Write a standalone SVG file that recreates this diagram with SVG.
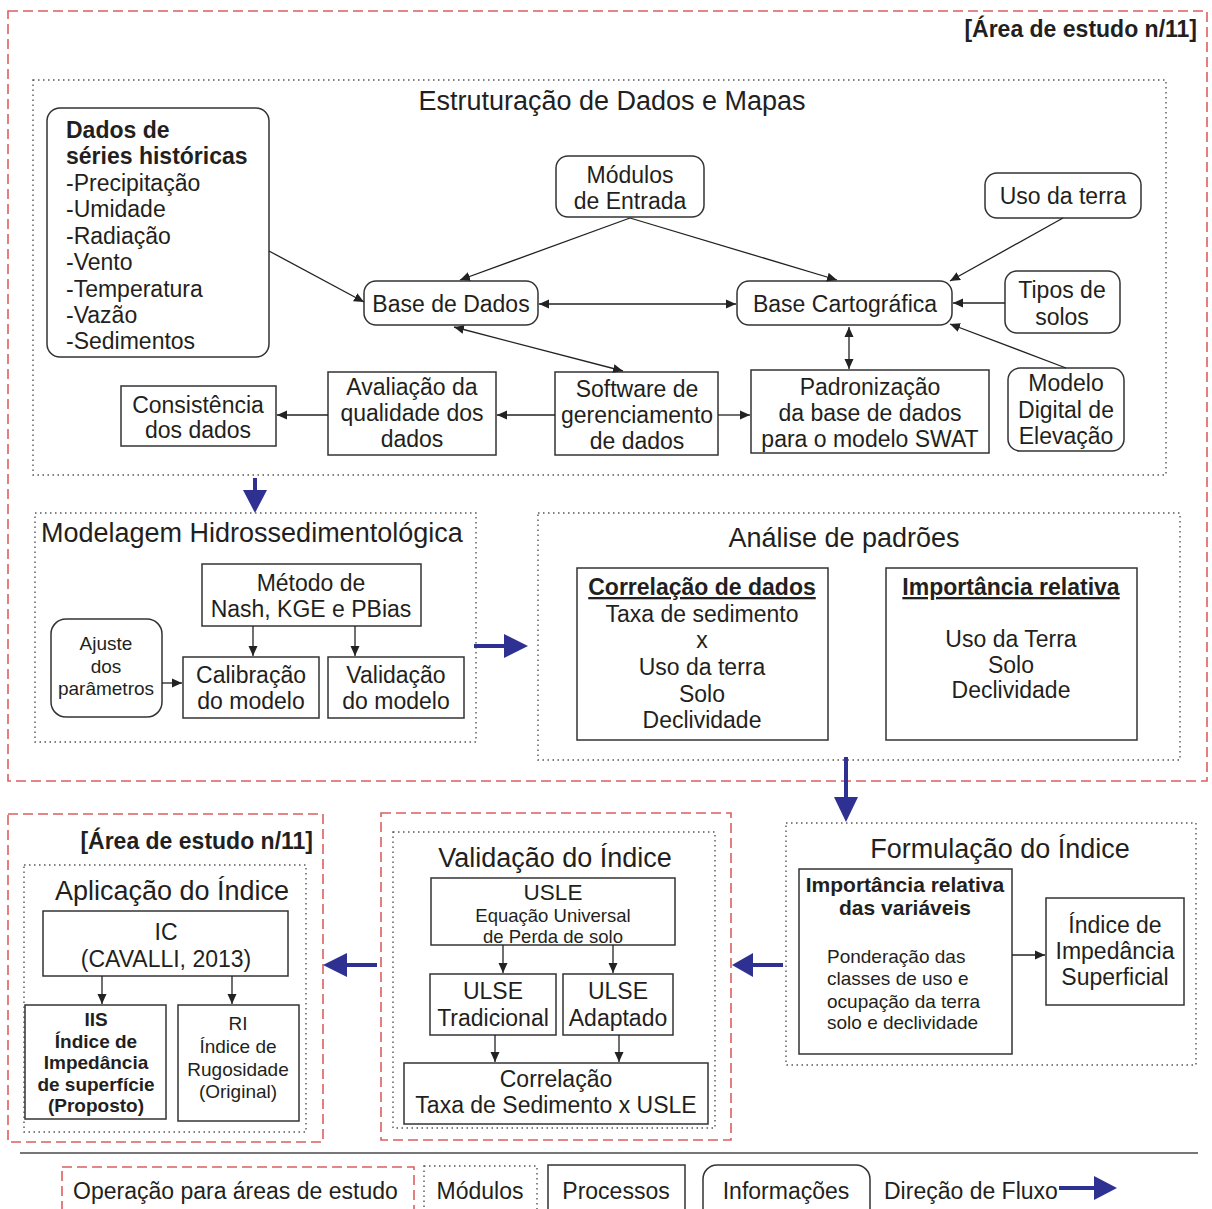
<svg xmlns="http://www.w3.org/2000/svg" width="1212" height="1209" viewBox="0 0 1212 1209">
<style>
text{font-family:"Liberation Sans",Arial,sans-serif;fill:#231f20;font-size:23px}
.m{text-anchor:middle}
.e{text-anchor:end}
.b{font-weight:bold}
.ti{font-size:27px}
.s{font-size:19px}
.red{fill:none;stroke:#dc5f5f;stroke-width:1.6;stroke-dasharray:10 5}
.dot{fill:none;stroke:#555;stroke-width:1.4;stroke-dasharray:1.5 3.5}
.box{fill:#fff;stroke:#333;stroke-width:1.5}
.ln{fill:none;stroke:#222;stroke-width:1.3;marker-end:url(#ah)}
.bi{marker-start:url(#ah)}
.bl{fill:none;stroke:#2e3192;stroke-width:4}
.bh{fill:#2e3192}
</style>
<defs>
<marker id="ah" markerUnits="userSpaceOnUse" markerWidth="11" markerHeight="10" refX="10" refY="5" orient="auto-start-reverse" viewBox="0 0 11 10">
<path d="M0,0.5 L10,5 L0,9.5 z" fill="#222"/>
</marker>
</defs>
<rect width="1212" height="1209" fill="#fff"/>

<g id="frames">
<rect class="red" x="8" y="11" width="1199" height="770"/>
<text class="b e" x="1197" y="37">[Área de estudo n/11]</text>
<rect class="red" x="8" y="814" width="315" height="328"/>
<text class="b e" x="313" y="849">[Área de estudo n/11]</text>
<rect class="red" x="381" y="813" width="350" height="327"/>
</g>

<g id="mod-estruturacao">
<rect class="dot" x="33" y="80" width="1133" height="395"/>
<text class="ti m" x="612" y="110">Estruturação de Dados e Mapas</text>
</g>
<g id="mod-modelagem">
<rect class="dot" x="35" y="513" width="441" height="229"/>
<text class="ti" x="41" y="542">Modelagem Hidrossedimentológica</text>
</g>
<g id="mod-analise">
<rect class="dot" x="538" y="513" width="642" height="247"/>
<text class="ti m" x="844" y="547">Análise de padrões</text>
</g>
<g id="mod-aplicacao">
<rect class="dot" x="24" y="865" width="282" height="267"/>
<text class="ti m" x="172" y="900">Aplicação do Índice</text>
</g>
<g id="mod-validacao">
<rect class="dot" x="393" y="832" width="322" height="296"/>
<text class="ti m" x="555" y="867">Validação do Índice</text>
</g>
<g id="mod-formulacao">
<rect class="dot" x="786" y="823" width="410" height="242"/>
<text class="ti m" x="1000" y="858">Formulação do Índice</text>
</g>

<g id="n-dados">
<rect class="box" x="47" y="108" width="222" height="249" rx="13"/>
<text class="b" x="66" y="138">Dados de</text>
<text class="b" x="66" y="164">séries históricas</text>
<text x="66" y="191">-Precipitação</text>
<text x="66" y="217">-Umidade</text>
<text x="66" y="244">-Radiação</text>
<text x="66" y="270">-Vento</text>
<text x="66" y="297">-Temperatura</text>
<text x="66" y="323">-Vazão</text>
<text x="66" y="349">-Sedimentos</text>
</g>
<g id="n-modulos">
<rect class="box" x="556" y="156" width="148" height="61" rx="12"/>
<text class="m" x="630" y="183">Módulos</text>
<text class="m" x="630" y="209">de Entrada</text>
</g>
<g id="n-uso">
<rect class="box" x="985" y="173" width="156" height="45" rx="12"/>
<text class="m" x="1063" y="204">Uso da terra</text>
</g>
<g id="n-basedados">
<rect class="box" x="364" y="281" width="174" height="44" rx="12"/>
<text class="m" x="451" y="312">Base de Dados</text>
</g>
<g id="n-basecarto">
<rect class="box" x="737" y="281" width="215" height="44" rx="12"/>
<text class="m" x="845" y="312">Base Cartográfica</text>
</g>
<g id="n-tipos">
<rect class="box" x="1005" y="271" width="115" height="62" rx="12"/>
<text class="m" x="1062" y="298">Tipos de</text>
<text class="m" x="1062" y="325">solos</text>
</g>
<g id="n-mde">
<rect class="box" x="1008" y="368" width="116" height="83" rx="12"/>
<text class="m" x="1066" y="391">Modelo</text>
<text class="m" x="1066" y="418">Digital de</text>
<text class="m" x="1066" y="444">Elevação</text>
</g>
<g id="n-padronizacao">
<rect class="box" x="751" y="370" width="238" height="83"/>
<text class="m" x="870" y="395">Padronização</text>
<text class="m" x="870" y="421">da base de dados</text>
<text class="m" x="870" y="447">para o modelo SWAT</text>
</g>
<g id="n-software">
<rect class="box" x="555" y="372" width="163" height="83"/>
<text class="m" x="637" y="397">Software de</text>
<text class="m" x="637" y="423">gerenciamento</text>
<text class="m" x="637" y="449">de dados</text>
</g>
<g id="n-avaliacao">
<rect class="box" x="328" y="372" width="168" height="83"/>
<text class="m" x="412" y="395">Avaliação da</text>
<text class="m" x="412" y="421">qualidade dos</text>
<text class="m" x="412" y="447">dados</text>
</g>
<g id="n-consistencia">
<rect class="box" x="121" y="386" width="155" height="60"/>
<text class="m" x="198" y="413">Consistência</text>
<text class="m" x="198" y="438">dos dados</text>
</g>

<g id="n-metodo">
<rect class="box" x="202" y="564" width="219" height="62"/>
<text class="m" x="311" y="591">Método de</text>
<text class="m" x="311" y="617">Nash, KGE e PBias</text>
</g>
<g id="n-ajuste">
<rect class="box" x="51" y="619" width="111" height="98" rx="15"/>
<text class="m s" x="106" y="650">Ajuste</text>
<text class="m s" x="106" y="673">dos</text>
<text class="m s" x="106" y="695">parâmetros</text>
</g>
<g id="n-calibracao">
<rect class="box" x="183" y="657" width="136" height="61"/>
<text class="m" x="251" y="683">Calibração</text>
<text class="m" x="251" y="709">do modelo</text>
</g>
<g id="n-validacao-modelo">
<rect class="box" x="328" y="657" width="136" height="61"/>
<text class="m" x="396" y="683">Validação</text>
<text class="m" x="396" y="709">do modelo</text>
</g>

<g id="n-correlacao">
<rect class="box" x="577" y="568" width="251" height="172"/>
<text class="m b" x="702" y="595" text-decoration="underline">Correlação de dados</text>
<text class="m" x="702" y="622">Taxa de sedimento</text>
<text class="m" x="702" y="648">x</text>
<text class="m" x="702" y="675">Uso da terra</text>
<text class="m" x="702" y="702">Solo</text>
<text class="m" x="702" y="728">Declividade</text>
</g>
<g id="n-importancia">
<rect class="box" x="886" y="568" width="251" height="172"/>
<text class="m b" x="1011" y="595" text-decoration="underline">Importância relativa</text>
<text class="m" x="1011" y="647">Uso da Terra</text>
<text class="m" x="1011" y="673">Solo</text>
<text class="m" x="1011" y="698">Declividade</text>
</g>

<g id="n-ic">
<rect class="box" x="43" y="911" width="245" height="65"/>
<text class="m" x="166" y="940">IC</text>
<text class="m" x="166" y="967">(CAVALLI, 2013)</text>
</g>
<g id="n-iis">
<rect class="box" x="25" y="1005" width="141" height="114"/>
<text class="m s b" x="96" y="1026">IIS</text>
<text class="m s b" x="96" y="1048">Índice de</text>
<text class="m s b" x="96" y="1069">Impedância</text>
<text class="m s b" x="96" y="1091">de superfície</text>
<text class="m s b" x="96" y="1112">(Proposto)</text>
</g>
<g id="n-ri">
<rect class="box" x="178" y="1005" width="121" height="116"/>
<text class="m s" x="238" y="1030">RI</text>
<text class="m s" x="238" y="1053">Índice de</text>
<text class="m s" x="238" y="1076">Rugosidade</text>
<text class="m s" x="238" y="1098">(Original)</text>
</g>

<g id="n-usle">
<rect class="box" x="431" y="878" width="244" height="67"/>
<text class="m" x="553" y="900" style="font-size:22.5px">USLE</text>
<text class="m" x="553" y="922" style="font-size:18.5px">Equação Universal</text>
<text class="m" x="553" y="943" style="font-size:18.5px">de Perda de solo</text>
</g>
<g id="n-ulse-trad">
<rect class="box" x="430" y="974" width="126" height="61"/>
<text class="m" x="493" y="999">ULSE</text>
<text class="m" x="493" y="1026">Tradicional</text>
</g>
<g id="n-ulse-adapt">
<rect class="box" x="563" y="974" width="110" height="61"/>
<text class="m" x="618" y="999">ULSE</text>
<text class="m" x="618" y="1026">Adaptado</text>
</g>
<g id="n-corr-usle">
<rect class="box" x="404" y="1063" width="304" height="61"/>
<text class="m" x="556" y="1087">Correlação</text>
<text class="m" x="556" y="1113">Taxa de Sedimento x USLE</text>
</g>

<g id="n-imp-var">
<rect class="box" x="799" y="869" width="213" height="185"/>
<text class="m b" x="905" y="892" style="font-size:21px">Importância relativa</text>
<text class="m b" x="905" y="915" style="font-size:21px">das variáveis</text>
<text class="s" x="827" y="963">Ponderação das</text>
<text class="s" x="827" y="985">classes de uso e</text>
<text class="s" x="827" y="1008">ocupação da terra</text>
<text class="s" x="827" y="1029">solo e declividade</text>
</g>
<g id="n-iis-result">
<rect class="box" x="1046" y="898" width="138" height="107"/>
<text class="m" x="1115" y="933">Índice de</text>
<text class="m" x="1115" y="959">Impedância</text>
<text class="m" x="1115" y="985">Superficial</text>
</g>

<g id="connectors">
<line class="ln" x1="269" y1="251" x2="364" y2="302"/>
<line class="ln" x1="630" y1="218" x2="460" y2="280"/>
<line class="ln" x1="630" y1="218" x2="837" y2="280"/>
<line class="ln bi" x1="539" y1="304" x2="736" y2="304"/>
<line class="ln bi" x1="454" y1="327" x2="623" y2="371"/>
<line class="ln" x1="1063" y1="218" x2="950" y2="281"/>
<line class="ln" x1="1005" y1="303" x2="953" y2="303"/>
<line class="ln" x1="1066" y1="368" x2="950" y2="324"/>
<line class="ln bi" x1="849" y1="327" x2="849" y2="369"/>
<line class="ln" x1="555" y1="415" x2="497" y2="415"/>
<line class="ln" x1="328" y1="415" x2="277" y2="415"/>
<line class="ln" x1="718" y1="415" x2="750" y2="415"/>
<line class="ln" x1="162" y1="683" x2="182" y2="683"/>
<line class="ln" x1="253" y1="626" x2="253" y2="656"/>
<line class="ln" x1="355" y1="626" x2="355" y2="656"/>
<line class="ln" x1="102" y1="976" x2="102" y2="1004"/>
<line class="ln" x1="232" y1="976" x2="232" y2="1004"/>
<line class="ln" x1="503" y1="945" x2="503" y2="973"/>
<line class="ln" x1="613" y1="945" x2="613" y2="973"/>
<line class="ln" x1="495" y1="1035" x2="495" y2="1062"/>
<line class="ln" x1="619" y1="1035" x2="619" y2="1062"/>
<line class="ln" x1="1012" y1="955" x2="1045" y2="955"/>
<line class="bl" x1="255" y1="478" x2="255" y2="494"/>
<polygon class="bh" points="243,490 267,490 255,513"/>
<line class="bl" x1="474" y1="646" x2="506" y2="646"/>
<polygon class="bh" points="504,634 504,658 528,646"/>
<line class="bl" x1="846" y1="757" x2="846" y2="800"/>
<polygon class="bh" points="834,797 858,797 846,822"/>
<line class="bl" x1="783" y1="965" x2="751" y2="965"/>
<polygon class="bh" points="753,953 753,977 732,965"/>
<line class="bl" x1="377" y1="965" x2="345" y2="965"/>
<polygon class="bh" points="347,953 347,977 323,965"/>
</g>

<g id="legend">
<line x1="20" y1="1153" x2="1198" y2="1153" stroke="#777" stroke-width="2"/>
<rect class="red" x="62" y="1167" width="352" height="60"/>
<text x="73" y="1199">Operação para áreas de estudo</text>
<rect class="dot" x="424" y="1166" width="113" height="60"/>
<text class="m" x="480" y="1199">Módulos</text>
<rect class="box" x="548" y="1165" width="137" height="60"/>
<text class="m" x="616" y="1199">Processos</text>
<rect class="box" x="703" y="1165" width="167" height="60" rx="14"/>
<text class="m" x="786" y="1199">Informações</text>
<text x="884" y="1199">Direção de Fluxo</text>
<line class="bl" x1="1059" y1="1188" x2="1097" y2="1188"/>
<polygon class="bh" points="1094,1176 1094,1200 1117,1188"/>
</g>
</svg>
